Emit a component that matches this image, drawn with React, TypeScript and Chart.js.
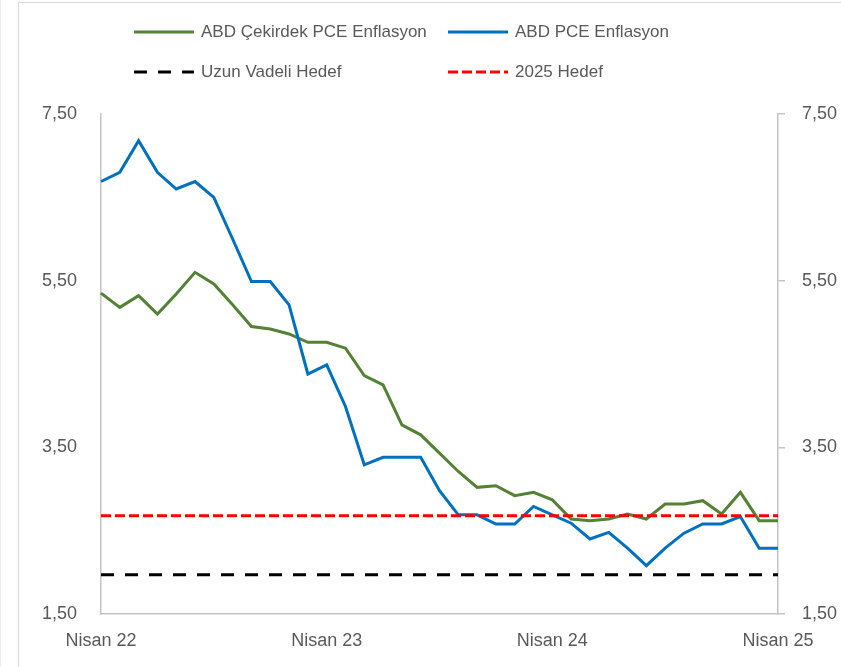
import React, { useEffect, useRef } from "react";
import { Chart, registerables } from "chart.js";

Chart.register(...registerables);

const months: string[] = [
  "Nisan 22", "Mayıs 22", "Haziran 22", "Temmuz 22", "Ağustos 22", "Eylül 22", "Ekim 22", "Kasım 22", "Aralık 22",
  "Ocak 23", "Şubat 23", "Mart 23", "Nisan 23", "Mayıs 23", "Haziran 23", "Temmuz 23", "Ağustos 23", "Eylül 23",
  "Ekim 23", "Kasım 23", "Aralık 23", "Ocak 24", "Şubat 24", "Mart 24", "Nisan 24", "Mayıs 24", "Haziran 24",
  "Temmuz 24", "Ağustos 24", "Eylül 24", "Ekim 24", "Kasım 24", "Aralık 24", "Ocak 25", "Şubat 25", "Mart 25",
  "Nisan 25",
];

const corePce: number[] = [
  5.35, 5.18, 5.32, 5.10, 5.34, 5.60, 5.46, 5.21, 4.95, 4.92, 4.86, 4.76, 4.76, 4.69, 4.36, 4.25, 3.77, 3.65,
  3.43, 3.21, 3.02, 3.04, 2.92, 2.96, 2.87, 2.64, 2.62, 2.64, 2.70, 2.64, 2.82, 2.82, 2.86, 2.70, 2.96, 2.62, 2.62,
];

const headlinePce: number[] = [
  6.69, 6.80, 7.18, 6.80, 6.60, 6.69, 6.50, 6.00, 5.49, 5.49, 5.21, 4.38, 4.49, 3.99, 3.29, 3.38, 3.38, 3.38,
  2.98, 2.69, 2.69, 2.58, 2.58, 2.79, 2.69, 2.59, 2.40, 2.48, 2.29, 2.08, 2.29, 2.47, 2.58, 2.58, 2.67, 2.29, 2.29,
];

const longTermTarget = 1.97;
const target2025 = 2.68;

const yTicks: number[] = [1.5, 3.5, 5.5, 7.5];
const xTickLabels: string[] = ["Nisan 22", "Nisan 23", "Nisan 24", "Nisan 25"];

const FONT = "'Liberation Sans', Arial, sans-serif";
const TEXT = "#595959";
const AXIS = "#C4C4C4";

type Series = { label: string; data: number[]; color: string; dash: number[]; order: number };

const series: Series[] = [
  { label: "ABD Çekirdek PCE Enflasyon", data: corePce, color: "#548235", dash: [], order: 3 },
  { label: "ABD PCE Enflasyon", data: headlinePce, color: "#0070C0", dash: [], order: 2 },
  { label: "Uzun Vadeli Hedef", data: months.map(() => longTermTarget), color: "#000000", dash: [13, 11], order: 1 },
  { label: "2025 Hedef", data: months.map(() => target2025), color: "#FF0000", dash: [10, 4], order: 0 },
];

const fmt = (v: number) => v.toFixed(2).replace(".", ",");

function LegendItem({ s, left, top }: { s: Series; left: number; top: number }) {
  return (
    <div style={{ position: "absolute", left, top, display: "flex", alignItems: "center", height: 24 }}>
      <svg width={60} height={6} style={{ display: "block" }}>
        <line
          x1={0}
          y1={3}
          x2={60}
          y2={3}
          stroke={s.color}
          strokeWidth={3}
          strokeDasharray={s.dash.length ? s.dash.join(" ") : undefined}
        />
      </svg>
      <span style={{ marginLeft: 7, fontFamily: FONT, fontSize: 17, color: TEXT, whiteSpace: "nowrap" }}>{s.label}</span>
    </div>
  );
}

export default function App() {
  const canvasRef = useRef<HTMLCanvasElement | null>(null);

  useEffect(() => {
    document.body.style.margin = "0";
    const canvas = canvasRef.current;
    if (!canvas) return;
    const chart = new Chart(canvas, {
      type: "line",
      data: {
        labels: months,
        datasets: series.map((s) => ({
          label: s.label,
          data: s.data,
          borderColor: s.color,
          backgroundColor: s.color,
          borderWidth: 3,
          borderDash: s.dash,
          pointRadius: 0,
          tension: 0,
          fill: false,
          order: s.order,
          yAxisID: "y",
        })),
      },
      options: {
        responsive: false,
        animation: false,
        layout: { padding: { top: 114, left: 0, right: 0, bottom: 0 } },
        plugins: { legend: { display: false }, tooltip: { enabled: false } },
        scales: {
          x: {
            type: "category",
            offset: false,
            grid: { display: false, drawTicks: false },
            border: { display: true, color: AXIS, width: 1.5 },
            ticks: {
              autoSkip: false,
              maxRotation: 0,
              padding: 16,
              color: TEXT,
              font: { family: FONT, size: 18 },
              callback: (_v: any, i: number) => (xTickLabels.includes(months[i]) && i % 12 === 0 ? months[i] : ""),
            },
            afterFit: (scale: any) => {
              scale.height = 53;
            },
          },
          y: {
            position: "left",
            min: 1.5,
            max: 7.5,
            grid: { display: false, drawTicks: false },
            border: { display: true, color: AXIS, width: 1.5 },
            afterBuildTicks: (scale: any) => {
              scale.ticks = yTicks.map((v) => ({ value: v }));
            },
            ticks: {
              padding: 24,
              color: TEXT,
              font: { family: FONT, size: 18 },
              callback: (v: any) => fmt(Number(v)),
            },
            afterFit: (scale: any) => {
              scale.width = 101;
            },
          },
          y2: {
            position: "right",
            min: 1.5,
            max: 7.5,
            grid: { display: true, drawOnChartArea: false, drawTicks: true, tickLength: 7, color: AXIS, lineWidth: 1.5 },
            border: { display: true, color: AXIS, width: 1.5 },
            afterBuildTicks: (scale: any) => {
              scale.ticks = yTicks.map((v) => ({ value: v }));
            },
            ticks: {
              padding: 17,
              color: TEXT,
              font: { family: FONT, size: 18 },
              callback: (v: any) => fmt(Number(v)),
            },
            afterFit: (scale: any) => {
              scale.width = 63;
            },
          },
        },
      },
    });
    return () => chart.destroy();
  }, []);

  return (
    <div style={{ position: "relative", width: 841, height: 667, background: "#fff", overflow: "hidden" }}>
      <div style={{ position: "absolute", left: 0, top: 0, width: 1, height: 667, background: "#EDEDED" }} />
      <div
        style={{
          position: "absolute",
          left: 18,
          top: 2,
          right: 0,
          bottom: 0,
          borderLeft: "1px solid #D9D9D9",
          borderTop: "1px solid #D9D9D9",
        }}
      />
      <canvas ref={canvasRef} width={841} height={667} style={{ position: "absolute", left: 0, top: 0 }} />
      <LegendItem s={series[0]} left={134} top={20} />
      <LegendItem s={series[1]} left={448} top={20} />
      <LegendItem s={series[2]} left={134} top={60} />
      <LegendItem s={series[3]} left={448} top={60} />
    </div>
  );
}
